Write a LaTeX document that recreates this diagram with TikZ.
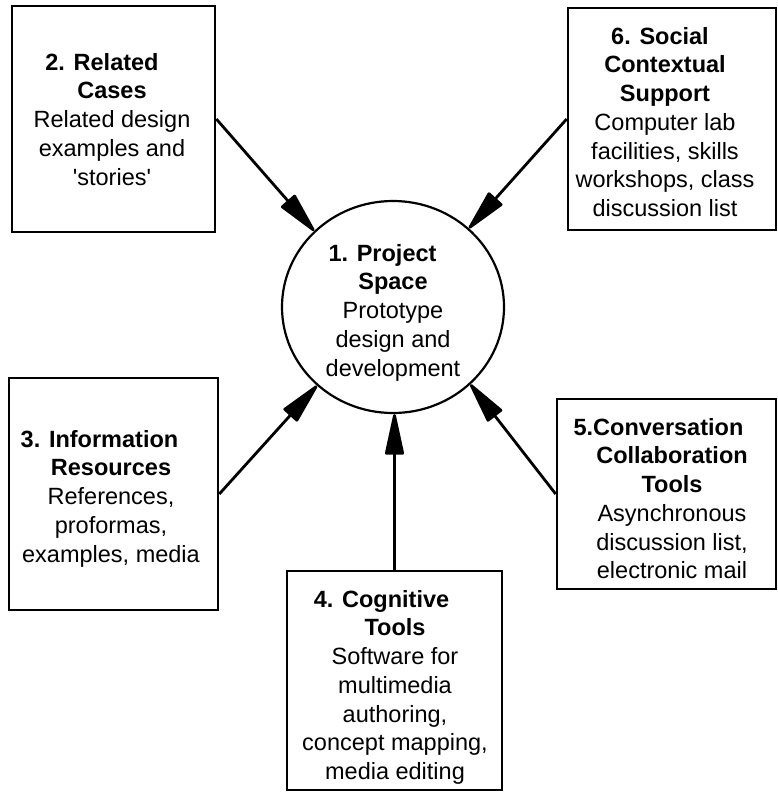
\documentclass[tikz,border=0pt]{standalone}
\usepackage{fontspec}
\setmainfont{Liberation Sans}
\usetikzlibrary{arrows.meta,shapes.geometric}
\begin{document}
\begin{tikzpicture}[x=1pt,y=-1pt,
  boxnode/.style={draw,line width=2.6pt,rectangle,inner sep=0pt},
  txt/.style={anchor=north,inner sep=0pt,align=center,font=\fontsize{23.5}{28.7}\selectfont},
  conn/.style={line width=2.8pt,-{Triangle[length=46pt,width=19pt,round]}}]
\useasboundingbox (0,0) rectangle (777,792);
\fill[white] (0,0) rectangle (777,792);
% boxes
\node[boxnode,minimum width=203pt,minimum height=226pt] (b2) at (113.5,119) {};
\node[boxnode,minimum width=208pt,minimum height=222pt] (b6) at (672,119) {};
\node[boxnode,minimum width=209pt,minimum height=232pt] (b3) at (113.5,494) {};
\node[boxnode,minimum width=219pt,minimum height=190pt] (b5) at (666.5,494) {};
\node[boxnode,minimum width=215pt,minimum height=219pt] (b4) at (394.5,680.5) {};
\node[draw,line width=2.2pt,ellipse,minimum width=222pt,minimum height=212pt,inner sep=0pt] (c) at (393,307) {};
% texts
\node[txt] (t2) at (112,53) {\textbf{2. Related}\hspace*{20pt}\\\textbf{Cases}\hspace*{12pt}\\Related design\\examples and\\\textquotesingle stories\textquotesingle};
\node[txt] (t6) at (665,27) {\textbf{6. Social}\hspace*{10pt}\\\textbf{Contextual}\hspace*{22pt}\\\textbf{Support}\\Computer lab\\facilities, skills\\workshops, class\\discussion list};
\node[txt] (t1) at (393,244) {\textbf{1. Project}\hspace*{21pt}\\\textbf{Space}\hspace*{16pt}\\Prototype\\design and\\development};
\node[txt] (t3) at (111,430) {\textbf{3. Information}\hspace*{23pt}\\\textbf{Resources}\hspace*{17pt}\\References,\\proformas,\\examples, media};
\node[txt] (t5) at (672,418) {\textbf{5.Conversation}\hspace*{27pt}\\\textbf{Collaboration}\hspace*{17pt}\\\textbf{Tools}\hspace*{5pt}\\Asynchronous\\discussion list,\\electronic mail};
\node[txt] (t4) at (395,590) {\textbf{4. Cognitive}\hspace*{27pt}\\\textbf{Tools}\hspace*{10pt}\\Software for\\multimedia\\authoring,\\concept mapping,\\media editing};
% connectors
\draw[conn] (b2.east) -- (c.136);
\draw[conn] (b6.west) -- (c.46);
\draw[conn] (b3.east) -- (c.226.5);
\draw[conn] (b5.west) -- (c.315.4);
\draw[conn] (b4.north) -- (b4.north |- c.south);
\end{tikzpicture}
\end{document}
